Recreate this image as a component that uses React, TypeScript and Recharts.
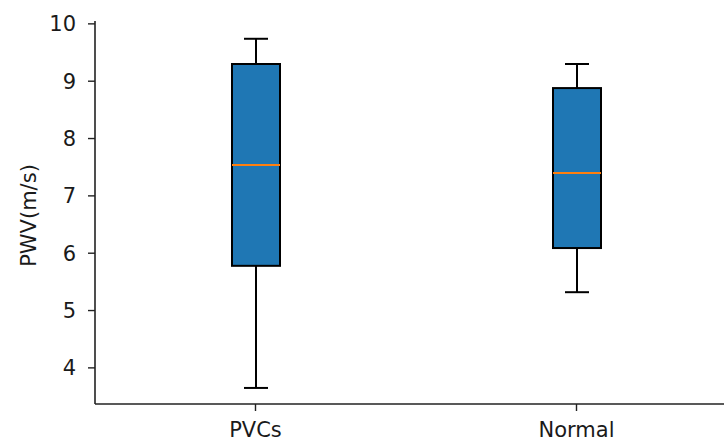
import React from 'react';
import { ComposedChart, Bar, XAxis, YAxis } from 'recharts';

const categories = ['PVCs', 'Normal'];
const whiskerLow = [3.65, 5.32];
const q1 = [5.78, 6.09];
const median = [7.54, 7.4];
const q3 = [9.3, 8.88];
const whiskerHigh = [9.74, 9.3];
const yTicks = [4, 5, 6, 7, 8, 9, 10];

const data = categories.map((name, i) => ({
  name,
  range: [whiskerLow[i], whiskerHigh[i]],
  low: whiskerLow[i],
  q1: q1[i],
  median: median[i],
  q3: q3[i],
  high: whiskerHigh[i],
}));

const FONT = 'DejaVu Sans';
const TEXT = '#1a1a1a';

const BoxShape = (props: any) => {
  const { x, y, width, height } = props;
  const p = props.payload ?? props;
  const top = Math.min(y, y + height);
  const h = Math.abs(height);
  const ppu = h / (p.high - p.low);
  const pix = (v: number) => top + (p.high - v) * ppu;
  const cx = x + width / 2;
  const capHalf = width / 4;
  const sw = 2;
  return (
    <g>
      <line x1={cx} x2={cx} y1={pix(p.high)} y2={pix(p.q3)} stroke="#000" strokeWidth={sw} />
      <line x1={cx} x2={cx} y1={pix(p.q1)} y2={pix(p.low)} stroke="#000" strokeWidth={sw} />
      <line x1={cx - capHalf} x2={cx + capHalf} y1={pix(p.high)} y2={pix(p.high)} stroke="#000" strokeWidth={sw} />
      <line x1={cx - capHalf} x2={cx + capHalf} y1={pix(p.low)} y2={pix(p.low)} stroke="#000" strokeWidth={sw} />
      <rect x={x} y={pix(p.q3)} width={width} height={pix(p.q1) - pix(p.q3)} fill="#1f77b4" stroke="#000" strokeWidth={sw} />
      <line x1={x} x2={x + width} y1={pix(p.median)} y2={pix(p.median)} stroke="#ff7f0e" strokeWidth={sw} />
    </g>
  );
};

const YLabel = (props: any) => {
  const vb = props.viewBox || { x: 0, y: 21, width: 95, height: 383 };
  const cx = 29;
  const cy = vb.y + vb.height / 2 + 3;
  return (
    <text
      x={cx}
      y={cy}
      transform={`rotate(-90 ${cx} ${cy})`}
      textAnchor="middle"
      dominantBaseline="central"
      fontFamily={FONT}
      fontSize={21}
      fill={TEXT}
    >
      PWV(m/s)
    </text>
  );
};

export default function App() {
  return (
    <div style={{ position: 'fixed', left: 0, top: 0, width: 724, height: 441, overflow: 'hidden', background: '#fff' }}>
      <ComposedChart
        width={737}
        height={441}
        data={data}
        margin={{ top: 21, right: 0, bottom: 0, left: 0 }}
        barCategoryGap={0}
      >
        <XAxis
          xAxisId="top"
          dataKey="name"
          orientation="top"
          height={0}
          tick={false}
          tickLine={false}
          axisLine={{ stroke: '#222', strokeWidth: 1.6 }}
        />
        <XAxis
          dataKey="name"
          height={37}
          tickSize={7}
          tickMargin={11}
          axisLine={{ stroke: '#222', strokeWidth: 1.6 }}
          tickLine={{ stroke: '#222', strokeWidth: 1.4 }}
          tick={{ fontFamily: FONT, fontSize: 21, fill: TEXT }}
        />
        <YAxis
          type="number"
          domain={[3.37, 10.05]}
          ticks={yTicks}
          allowDataOverflow
          width={95}
          tickSize={7}
          tickMargin={12}
          axisLine={{ stroke: '#222', strokeWidth: 1.6 }}
          tickLine={{ stroke: '#222', strokeWidth: 1.4 }}
          tick={{ fontFamily: FONT, fontSize: 21, fill: TEXT }}
          label={<YLabel />}
        />
        <Bar dataKey="range" barSize={48} shape={<BoxShape />} isAnimationActive={false} />
      </ComposedChart>
    </div>
  );
}
